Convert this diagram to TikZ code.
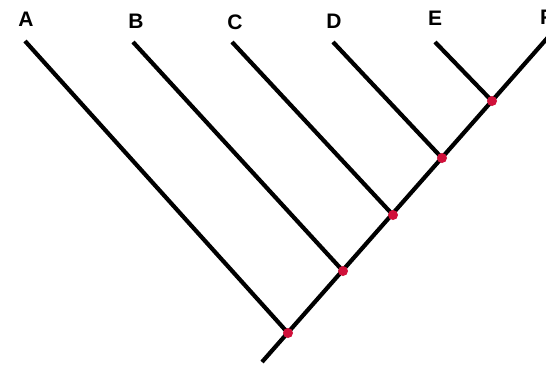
\documentclass[tikz,border=0pt]{standalone}
\usepackage{fontspec}
\setmainfont{Liberation Sans}
\definecolor{nodered}{HTML}{D0103A}
\begin{document}
\begin{tikzpicture}[x=1pt,y=-1pt,
  lbl/.style={font=\bfseries\fontsize{21}{21}\selectfont, inner sep=0pt},
  branch/.style={line width=4.2pt, black},
  dot/.style={circle, fill=nodered, inner sep=0pt, minimum size=10pt}]
\useasboundingbox (0,0) rectangle (546,367);
% labels
\node[lbl] (A) at (26,19) {A};
\node[lbl] (B) at (136,21) {B};
\node[lbl] (C) at (235,22) {C};
\node[lbl] (D) at (334,21) {D};
\node[lbl] (E) at (435,18) {E};
\node[lbl,anchor=west] (F) at (540,17) {F};
% branch tips
\coordinate (a) at (25,41);
\coordinate (b) at (133,42);
\coordinate (c) at (232,42);
\coordinate (d) at (333,42);
\coordinate (e) at (435,42);
\coordinate (f) at (550,35);
\coordinate (root) at (262,362);
% internal nodes
\coordinate (n1) at (288,333);
\coordinate (n2) at (343,271);
\coordinate (n3) at (393,215);
\coordinate (n4) at (442,158);
\coordinate (n5) at (492,101);
% branches
\draw[branch] (root) -- (f);
\draw[branch] (a) -- (n1);
\draw[branch] (b) -- (n2);
\draw[branch] (c) -- (n3);
\draw[branch] (d) -- (n4);
\draw[branch] (e) -- (n5);
% dots
\foreach \n in {n1,n2,n3,n4,n5} \node[dot] at (\n) {};
\end{tikzpicture}
\end{document}
